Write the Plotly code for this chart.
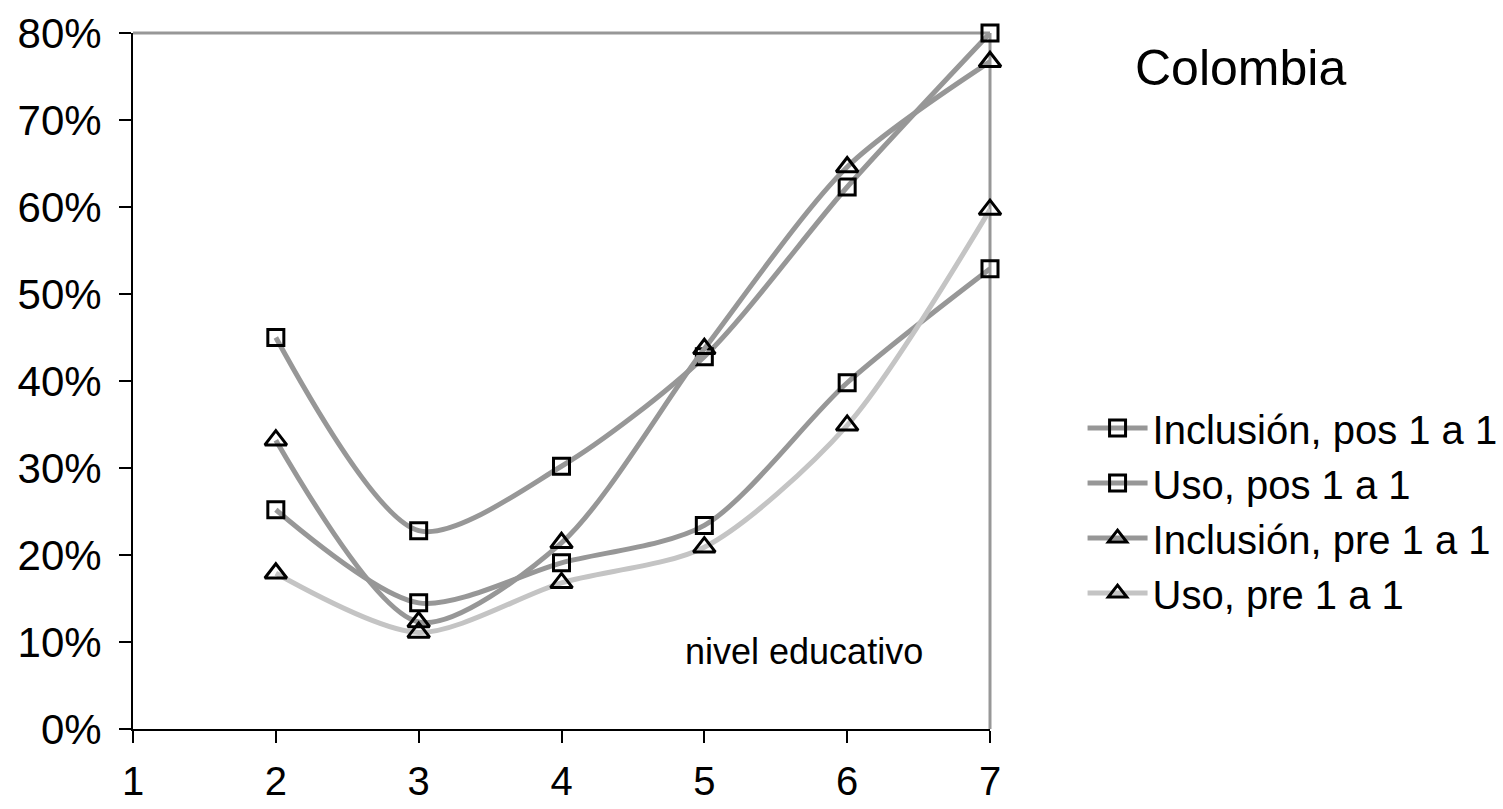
import plotly.graph_objects as go

# Educational level (x) and percentages per series
niveles = [2, 3, 4, 5, 6, 7]
inclusion_pos = [45.0, 22.8, 30.2, 42.8, 62.3, 80.0]
uso_pos = [25.2, 14.5, 19.1, 23.4, 39.8, 52.9]
inclusion_pre = [33.2, 12.3, 21.4, 43.7, 64.6, 76.7]
uso_pre = [17.9, 11.1, 16.8, 20.9, 34.9, 59.7]

series_names = ["Inclusión, pos 1 a 1", "Uso, pos 1 a 1",
                "Inclusión, pre 1 a 1", "Uso, pre 1 a 1"]

x_ticks = [1, 2, 3, 4, 5, 6, 7]
y_ticks = [0, 10, 20, 30, 40, 50, 60, 70, 80]
y_tick_labels = [f"{v}%" for v in y_ticks]

FONT = "Liberation Sans, Arial, sans-serif"
DARK = "#979797"
LIGHT = "#c4c4c4"

styles = [
    (inclusion_pos, DARK, "square-open", 16),
    (uso_pos, DARK, "square-open", 16),
    (inclusion_pre, DARK, "triangle-up-open", 19),
    (uso_pre, LIGHT, "triangle-up-open", 19),
]

fig = go.Figure()
for name, (vals, color, symbol, size) in zip(series_names, styles):
    fig.add_trace(go.Scatter(
        x=niveles, y=vals, name=name, mode="lines+markers",
        line=dict(color=color, width=5, shape="spline", smoothing=0.8),
        marker=dict(symbol=symbol, size=size, color="black",
                    line=dict(width=3, color="black")),
        cliponaxis=False,
    ))

axis_common = dict(
    showgrid=False, zeroline=False, showline=True, automargin=False,
    linecolor="black", linewidth=2,
    ticks="outside", ticklen=12, tickwidth=2, tickcolor="black",
)

fig.update_xaxes(range=[1, 7], tickmode="array", tickvals=x_ticks,
                 ticklabelstandoff=4,
                 tickfont=dict(family=FONT, size=40, color="black"),
                 **axis_common)
fig.update_yaxes(range=[0, 80], tickmode="array", tickvals=y_ticks,
                 ticktext=y_tick_labels, ticklabelstandoff=9,
                 tickfont=dict(family=FONT, size=42, color="black"),
                 **axis_common)

# grey frame on the top and right edges of the plot area
frame = dict(color=DARK, width=3)
fig.add_shape(type="line", xref="paper", yref="paper", x0=0, x1=1, y0=1, y1=1,
              line=frame, layer="below")
fig.add_shape(type="line", xref="paper", yref="paper", x0=1, x1=1, y0=0, y1=1,
              line=frame, layer="below")

fig.add_annotation(text="Colombia", xref="paper", yref="paper",
                   x=1.167, y=0.95, xanchor="left", yanchor="middle",
                   showarrow=False,
                   font=dict(family=FONT, size=50, color="black"))
fig.add_annotation(text="nivel educativo", xref="paper", yref="paper",
                   x=0.642, y=0.111, xanchor="left", yanchor="middle",
                   showarrow=False,
                   font=dict(family=FONT, size=36, color="black"))

fig.update_layout(
    width=1503, height=809,
    margin=dict(l=133, r=513, t=33, b=80, autoexpand=False),
    paper_bgcolor="white", plot_bgcolor="white",
    showlegend=True,
    legend=dict(x=1.108, y=0.479, xanchor="left", yanchor="top",
                font=dict(family=FONT, size=40, color="black"),
                itemwidth=60, tracegroupgap=0,
                bgcolor="rgba(0,0,0,0)"),
)

fig.write_html("out.html")
